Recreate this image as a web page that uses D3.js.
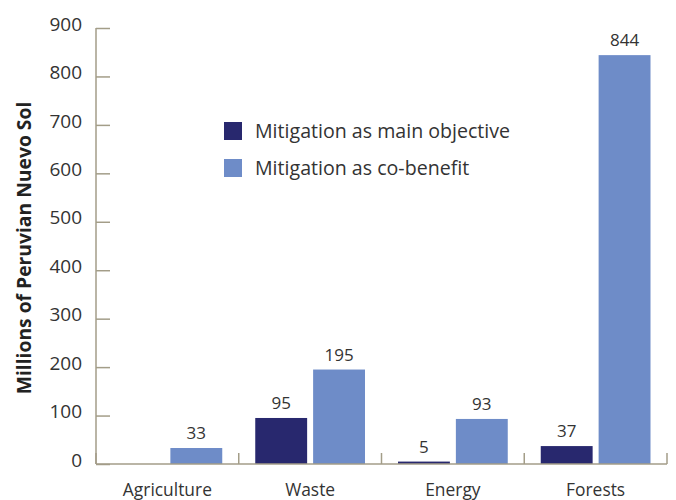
<!DOCTYPE html>
<html>
<head>
<meta charset="utf-8">
<script src="https://cdn.jsdelivr.net/npm/d3@7"></script>
<style>
  body { margin: 0; background: #fff; }
  text { font-family: "Open Sans", sans-serif; fill: #333; }
</style>
</head>
<body>
<svg id="chart" width="676" height="500"></svg>
<script>
// data
const categories = ["Agriculture", "Waste", "Energy", "Forests"];
const seriesNames = ["Mitigation as main objective", "Mitigation as co-benefit"];
const mainObjective = [0, 95, 5, 37];
const coBenefit = [33, 195, 93, 844];
const yTicks = [0, 100, 200, 300, 400, 500, 600, 700, 800, 900];

const colors = ["#28286e", "#6e8cc8"];
const axisColor = "#a39d88";

const svg = d3.select("#chart");
const plotLeft = 96, plotRight = 667, plotTop = 28, plotBottom = 464;

const x0 = d3.scaleBand().domain(categories).range([plotLeft, plotRight]).padding(0);
const x1 = d3.scaleBand().domain(seriesNames)
  .range([16.5, x0.bandwidth() - 16.5]).paddingInner(0.1034).paddingOuter(0);
const y = d3.scaleLinear().domain([0, 900]).range([plotBottom, plotTop]);

const rows = categories.map((c, i) => ({
  cat: c,
  vals: [
    { s: seriesNames[0], v: mainObjective[i], c: colors[0], label: mainObjective[i] > 0 },
    { s: seriesNames[1], v: coBenefit[i], c: colors[1], label: true }
  ]
}));

// bars
const groups = svg.append("g").selectAll("g")
  .data(rows)
  .join("g")
  .attr("transform", d => `translate(${x0(d.cat)},0)`);

groups.selectAll("rect")
  .data(d => d.vals)
  .join("rect")
  .attr("x", d => x1(d.s))
  .attr("width", x1.bandwidth())
  .attr("y", d => y(d.v))
  .attr("height", d => y(0) - y(d.v))
  .attr("fill", d => d.c);

groups.selectAll("text.val")
  .data(d => d.vals.filter(v => v.label))
  .join("text")
  .attr("class", "val")
  .attr("x", d => x1(d.s) + x1.bandwidth() / 2)
  .attr("y", d => y(d.v) - 9)
  .attr("text-anchor", "middle")
  .attr("font-size", "17px")
  .text(d => d.v);

// y axis
const yAxis = svg.append("g")
  .attr("transform", `translate(${plotLeft},0)`)
  .call(d3.axisRight(y).tickValues(yTicks).tickSize(14).tickFormat(""));
yAxis.select(".domain").attr("stroke", axisColor).attr("stroke-width", 1.5).attr("d", `M0,${plotTop}V${plotBottom}`);
yAxis.selectAll(".tick line").attr("stroke", axisColor).attr("stroke-width", 1.5);

svg.append("g").selectAll("text")
  .data(yTicks)
  .join("text")
  .attr("x", 82)
  .attr("y", d => y(d) - 4)
  .attr("dy", "0.35em")
  .attr("text-anchor", "end")
  .attr("font-size", "19px")
  .text(d => d);

// x axis
const xAxis = svg.append("g")
  .attr("transform", `translate(0,${plotBottom})`)
  .call(d3.axisTop(x0).tickSize(0).tickFormat(""));
xAxis.select(".domain").attr("stroke", axisColor).attr("stroke-width", 1.5).attr("d", `M${plotLeft},0H${plotRight}`);
xAxis.selectAll(".tick line").remove();

const bounds = categories.map(c => x0(c) + x0.bandwidth()).concat([plotLeft]);
svg.append("g").selectAll("line")
  .data(bounds)
  .join("line")
  .attr("x1", d => d).attr("x2", d => d)
  .attr("y1", plotBottom - 11).attr("y2", plotBottom)
  .attr("stroke", axisColor)
  .attr("stroke-width", 1.5);

svg.append("g").selectAll("text")
  .data(categories)
  .join("text")
  .attr("x", d => x0(d) + x0.bandwidth() / 2)
  .attr("y", 496)
  .attr("text-anchor", "middle")
  .attr("font-size", "17.4px")
  .text(d => d);

// y label
svg.append("text")
  .attr("transform", "translate(31,248) rotate(-90)")
  .attr("text-anchor", "middle")
  .attr("font-size", "19.3px")
  .attr("font-weight", "bold")
  .style("fill", "#222")
  .text("Millions of Peruvian Nuevo Sol");

// legend
const legend = svg.append("g").attr("transform", "translate(224,122)");
const items = legend.selectAll("g")
  .data(seriesNames)
  .join("g")
  .attr("transform", (d, i) => `translate(0,${i * 37})`);
items.append("rect")
  .attr("width", 18).attr("height", 18)
  .attr("fill", (d, i) => colors[i]);
items.append("text")
  .attr("x", 31)
  .attr("y", 9)
  .attr("dy", "0.35em")
  .attr("font-size", "19.6px")
  .text(d => d);
</script>
</body>
</html>
